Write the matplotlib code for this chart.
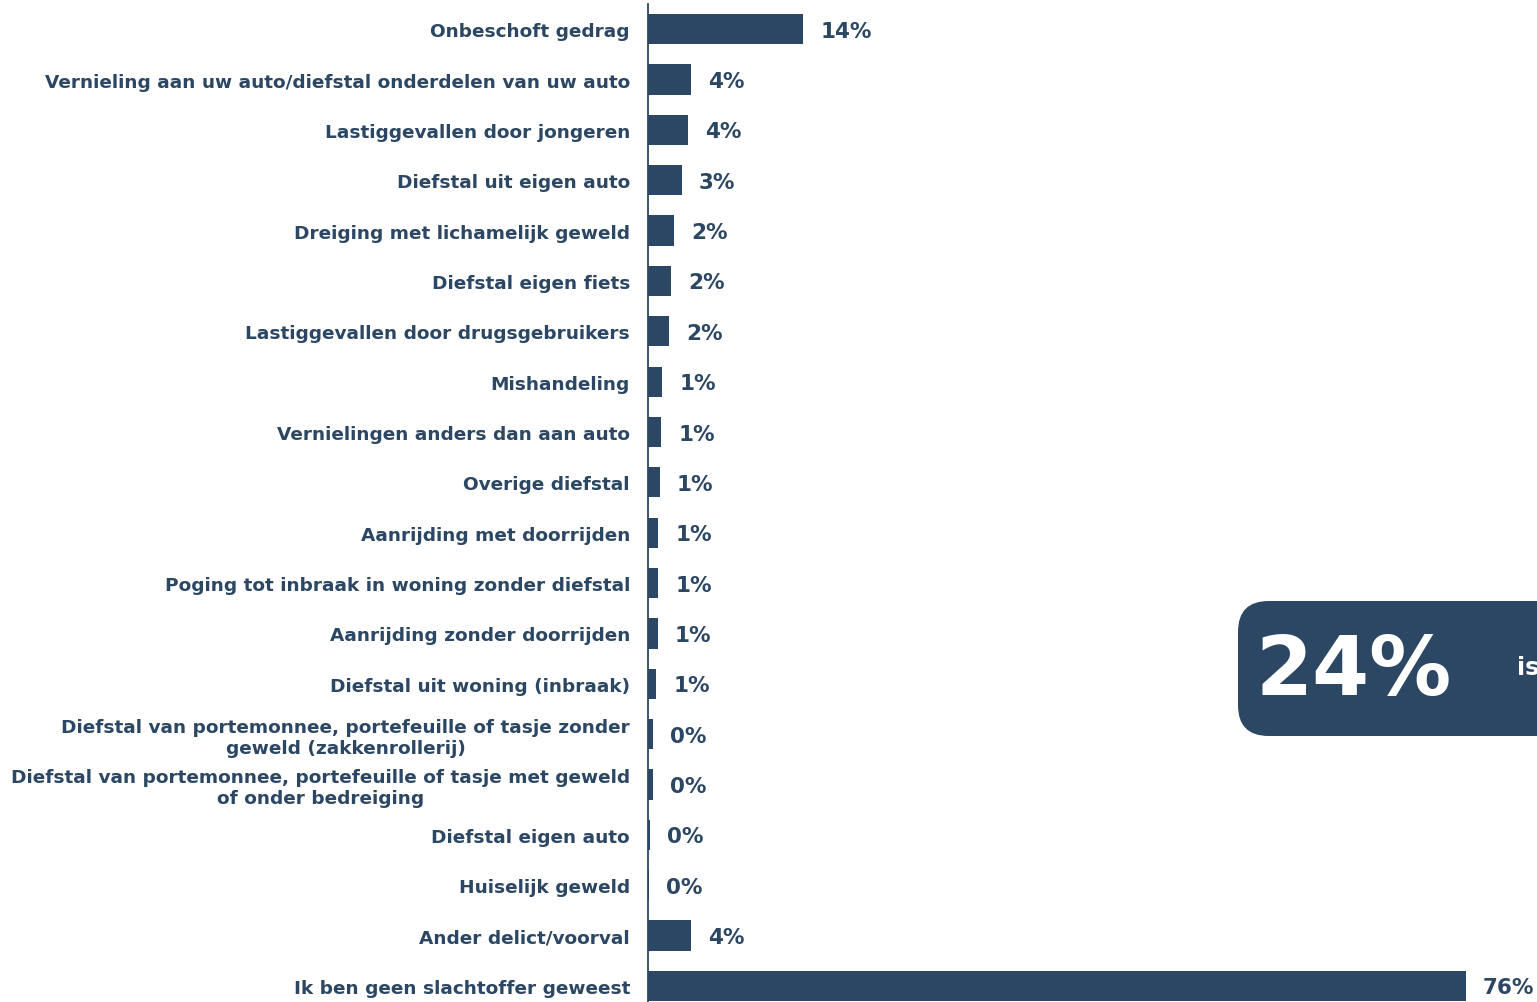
import matplotlib.pyplot as plt
from matplotlib.patches import FancyBboxPatch

categories = [
    'Onbeschoft gedrag',
    'Vernieling aan uw auto/diefstal onderdelen van uw auto',
    'Lastiggevallen door jongeren',
    'Diefstal uit eigen auto',
    'Dreiging met lichamelijk geweld',
    'Diefstal eigen fiets',
    'Lastiggevallen door drugsgebruikers',
    'Mishandeling',
    'Vernielingen anders dan aan auto',
    'Overige diefstal',
    'Aanrijding met doorrijden',
    'Poging tot inbraak in woning zonder diefstal',
    'Aanrijding zonder doorrijden',
    'Diefstal uit woning (inbraak)',
    'Diefstal van portemonnee, portefeuille of tasje zonder\ngeweld (zakkenrollerij)',
    'Diefstal van portemonnee, portefeuille of tasje met geweld\nof onder bedreiging',
    'Diefstal eigen auto',
    'Huiselijk geweld',
    'Ander delict/voorval',
    'Ik ben geen slachtoffer geweest',
]
values = [14.45, 4.0, 3.7, 3.15, 2.45, 2.1, 1.95, 1.3, 1.2, 1.1,
          0.95, 0.95, 0.9, 0.75, 0.45, 0.45, 0.2, 0.05, 4.0, 76.0]
highlight_value = '24%'
highlight_text = 'is'

navy = '#2C4763'

fig = plt.figure(figsize=(15.37, 10.03), dpi=100)
ax = fig.add_axes([648 / 1537, -0.009, (1537 - 648) / 1537, 1.004])

y = list(range(len(categories)))
ax.barh(y, values, height=0.6, color=navy)
for yi, v in zip(y, values):
    ax.text(v + 1.6, yi + 0.03, f'{round(v)}%', va='center', ha='left',
            fontsize=15.5, fontweight='bold', color=navy)

ax.set_xlim(0, (1537 - 648) / 10.76)
ax.set_ylim(len(categories) - 0.5, -0.5)
ax.set_yticks(y)
ax.set_yticklabels(categories, fontsize=13.3, fontweight='bold', color=navy)
for lbl in ax.get_yticklabels():
    lbl.set_multialignment('center')
ax.tick_params(axis='y', length=0, pad=13)
ax.set_xticks([])
for s in ['top', 'right', 'bottom']:
    ax.spines[s].set_visible(False)
ax.spines['left'].set_color(navy)
ax.spines['left'].set_linewidth(1.3)

# highlight box (cut off at the right edge, as in the source)
box = FancyBboxPatch((1238 / 1537, 1 - 737 / 1003), 0.3, 135 / 1003,
                     boxstyle='round,pad=0,rounding_size=0.02',
                     transform=fig.transFigure, facecolor=navy,
                     edgecolor='none', mutation_aspect=1537 / 1003)
fig.patches.append(box)
fig.text(1256 / 1537, 1 - 672 / 1003, highlight_value, color='white',
         fontsize=59, fontweight='bold', va='center', ha='left')
fig.text(1517 / 1537, 1 - 668 / 1003, highlight_text, color='white',
         fontsize=17, fontweight='bold', va='center', ha='left')

fig.savefig('out.png', dpi=100)
